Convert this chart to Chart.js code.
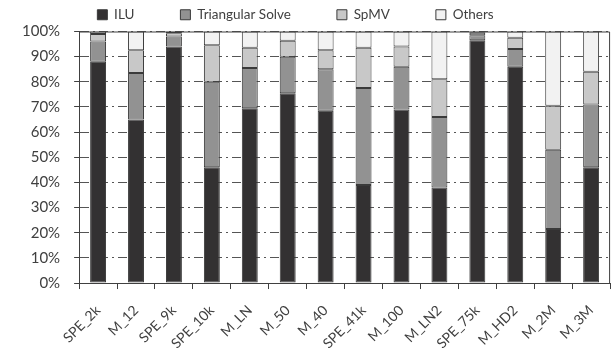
<!DOCTYPE html>
<html>
<head>
<meta charset="utf-8">
<script src="https://cdn.jsdelivr.net/npm/chart.js@4"></script>
<style>
  html, body { margin: 0; padding: 0; background: #fff; }
  #wrap { width: 616px; height: 352px; }
</style>
</head>
<body>
<div id="wrap"><canvas id="breakdownChart"></canvas></div>
<script>
// Runtime breakdown per matrix (percent of total)
const categories = ['SPE_2k', 'M_12', 'SPE_9k', 'SPE_10k', 'M_LN', 'M_50', 'M_40',
    'SPE_41k', 'M_100', 'M_LN2', 'SPE_75k', 'M_HD2', 'M_2M', 'M_3M'];
const iluValues      = [88, 65, 94, 46, 69.5, 75.5, 68.5, 39, 69, 38, 96.5, 86, 21.5, 46];
const triSolveValues = [8, 18.5, 4, 34, 16, 14.5, 16.5, 38.5, 17, 28, 2, 7, 31.5, 25];
const spmvValues     = [3, 9, 1.3, 14.5, 8, 6.3, 7.5, 16, 8, 15, 1, 4.5, 17.5, 13];
const othersValues   = [1, 7.5, 0.7, 5.5, 6.5, 3.7, 7.5, 6.5, 6, 19, 0.5, 2.5, 29.5, 16];
const yTicks = [0, 10, 20, 30, 40, 50, 60, 70, 80, 90, 100];

const fontFamily = 'Lato, "Open Sans", sans-serif';
const textColor = '#404040';

function series(label, data, color) {
    return {
        label: label,
        data: data,
        backgroundColor: color,
        borderColor: '#3a3a3a',
        borderWidth: 1,
        borderSkipped: false,
        barPercentage: 0.42,
        categoryPercentage: 1.0
    };
}

// top and right frame of the plot area
const frame = {
    id: 'frame',
    afterDatasetsDraw(chart) {
        const { ctx, chartArea: a } = chart;
        ctx.save();
        ctx.strokeStyle = '#404040';
        ctx.lineWidth = 1;
        ctx.beginPath();
        ctx.moveTo(a.left, a.top + 0.5);
        ctx.lineTo(a.right - 0.5, a.top + 0.5);
        ctx.lineTo(a.right - 0.5, a.bottom);
        ctx.stroke();
        ctx.restore();
    }
};

const ctx = document.getElementById('breakdownChart').getContext('2d');
const breakdownChart = new Chart(ctx, {
    type: 'bar',
    data: {
        labels: categories,
        datasets: [
            series('ILU', iluValues, '#333132'),
            series('Triangular Solve', triSolveValues, '#929292'),
            series('SpMV', spmvValues, '#c8c8c8'),
            series('Others', othersValues, '#f2f2f2')
        ]
    },
    options: {
        responsive: true,
        maintainAspectRatio: false,
        animation: false,
        layout: { padding: { left: 8, right: -5, top: 0, bottom: -13 } },
        plugins: {
            legend: {
                display: true,
                position: 'top',
                labels: {
                    boxWidth: 10,
                    boxHeight: 10,
                    padding: 8,
                    color: textColor,
                    font: { family: fontFamily, size: 13.5 },
                    generateLabels(chart) {
                        const items = Chart.defaults.plugins.legend.labels.generateLabels(chart);
                        items.forEach(it => { it.text = it.text + '           '; it.lineWidth = 1; it.strokeStyle = '#3a3a3a'; });
                        return items;
                    }
                }
            },
            tooltip: { enabled: false }
        },
        scales: {
            x: {
                stacked: true,
                grid: {
                    drawOnChartArea: false,
                    drawTicks: true,
                    tickLength: 6,
                    color: '#404040',
                    offset: true
                },
                border: { display: true, color: '#404040', width: 1 },
                ticks: {
                    color: textColor,
                    font: { family: fontFamily, size: 14 },
                    minRotation: 45,
                    maxRotation: 45,
                    autoSkip: false,
                    padding: 13
                }
            },
            y: {
                stacked: true,
                min: yTicks[0],
                max: yTicks[yTicks.length - 1],
                grid: {
                    display: true,
                    drawOnChartArea: true,
                    color: '#555555',
                    lineWidth: 1,
                    drawTicks: true,
                    tickLength: 5,
                    tickColor: '#404040',
                    borderDash: [9, 4, 2, 4]
                },
                border: { display: true, color: '#404040', width: 1, dash: [9, 4, 2, 4] },
                ticks: {
                    stepSize: yTicks[1] - yTicks[0],
                    color: textColor,
                    font: { family: fontFamily, size: 15 },
                    padding: 14,
                    callback: v => v + '%'
                }
            }
        }
    },
    plugins: [frame]
});
</script>
</body>
</html>
